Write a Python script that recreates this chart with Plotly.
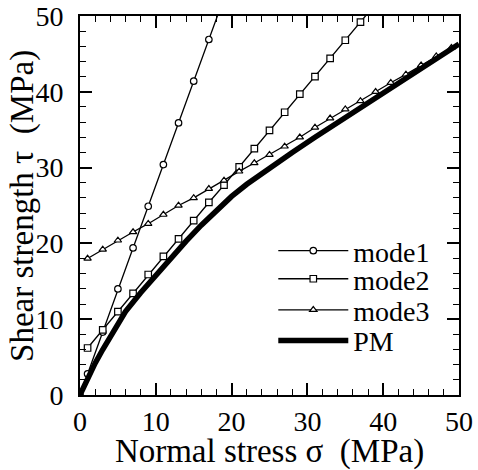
import plotly.graph_objects as go

# normal stress sigma (MPa) and shear strength tau (MPa)
sigma_mode1 = [0, 1, 3, 5, 7, 9, 11, 13, 15, 17, 19]
tau_mode1 = [0, 2.8, 8.3, 14.0, 19.4, 24.9, 30.4, 35.9, 41.4, 46.9, 52.4]

sigma_mode2 = [1, 3, 5, 7, 9, 11, 13, 15, 17, 19, 21, 23, 25, 27, 29, 31, 33, 35, 37, 39]
tau_mode2 = [6.2, 8.6, 11.0, 13.4, 15.9, 18.3, 20.6, 23.0, 25.4, 27.7, 30.1, 32.5,
             34.9, 37.3, 39.7, 42.0, 44.4, 46.8, 49.2, 51.6]

sigma_mode3 = [1, 3, 5, 7, 9, 11, 13, 15, 17, 19, 21, 23, 25, 27, 29, 31, 33, 35,
               37, 39, 41, 43, 45, 47, 49]
tau_mode3 = [18.0, 19.2, 20.4, 21.5, 22.6, 23.8, 25.0, 26.0, 27.2, 28.3, 29.5, 30.6,
             31.7, 32.8, 34.0, 35.3, 36.5, 37.7, 38.8, 40.0, 41.2, 42.3, 43.5, 44.7, 45.8]

sigma_pm = [0, 1, 2, 3, 4, 5, 6, 8, 10, 12, 14, 16, 18, 20, 22, 25, 28, 31, 35,
            38, 41, 44, 47, 50]
tau_pm = [0, 2.3, 4.2, 6.0, 7.6, 9.3, 11.0, 13.5, 15.8, 18.1, 20.3, 22.4, 24.4,
          26.2, 27.8, 30.0, 32.0, 34.0, 36.6, 38.5, 40.4, 42.3, 44.3, 46.3]

FONT = "Liberation Serif"

fig = go.Figure()

def thin(x, y, name, symbol, leg):
    return go.Scatter(
        x=x, y=y, name=name, mode='lines+markers', legend=leg,
        line=dict(color='black', width=1.3),
        marker=dict(symbol=symbol, size=6.5, color='white',
                    line=dict(color='black', width=1.2))
    )

fig.add_trace(thin(sigma_mode1, tau_mode1, 'mode1', 'circle', 'legend'))
fig.add_trace(thin(sigma_mode2, tau_mode2, 'mode2', 'square', 'legend2'))
fig.add_trace(thin(sigma_mode3, tau_mode3, 'mode3', 'triangle-up', 'legend3'))
fig.add_trace(go.Scatter(
    x=sigma_pm, y=tau_pm, name='PM', mode='lines', legend='legend4',
    line=dict(color='black', width=5.5)
))

axis_common = dict(
    showline=True, linecolor='black', linewidth=2, mirror='ticks',
    ticks='inside', ticklen=12, tickwidth=1.5, tickcolor='black',
    showgrid=False, zeroline=False, dtick=10, automargin=False,
    minor=dict(ticks='inside', ticklen=6, tickwidth=1.2, tickcolor='black', dtick=2),
    tickfont=dict(family=FONT, size=28, color='black'),
)

# one legend box per entry so the rows sit where the original has them
def leg(y):
    return dict(x=0.51, y=y, xanchor='left', yanchor='middle',
                bgcolor='rgba(0,0,0,0)', font=dict(family=FONT, size=28, color='black'),
                itemwidth=70)

fig.update_layout(
    width=478, height=470,
    paper_bgcolor='white', plot_bgcolor='white',
    margin=go.layout.Margin(l=80, r=19, t=16, b=75, pad=0),
    font=dict(family=FONT, color='black'),
    xaxis=dict(axis_common, range=[0, 50], ticklabelstandoff=0,
               title=dict(text='Normal stress σ\u00a0 (MPa)',
                          font=dict(family=FONT, size=33), standoff=9)),
    yaxis=dict(axis_common, range=[0, 50], ticklabelstandoff=9),
    legend=leg(0.380),
    legend2=leg(0.306),
    legend3=leg(0.224),
    legend4=leg(0.143),
    showlegend=True,
    annotations=[dict(text='Shear strength τ\u00a0 (MPa)', textangle=-90,
                      xref='paper', yref='paper', x=-0.152, y=0.5,
                      xanchor='center', yanchor='middle', showarrow=False,
                      font=dict(family=FONT, size=33, color='black'))],
)

# drop the browser's default body margin so the figure sits at the page corner
fig.write_html("out.html", config={'displayModeBar': False},
               post_script="document.body.style.margin='0px';")
